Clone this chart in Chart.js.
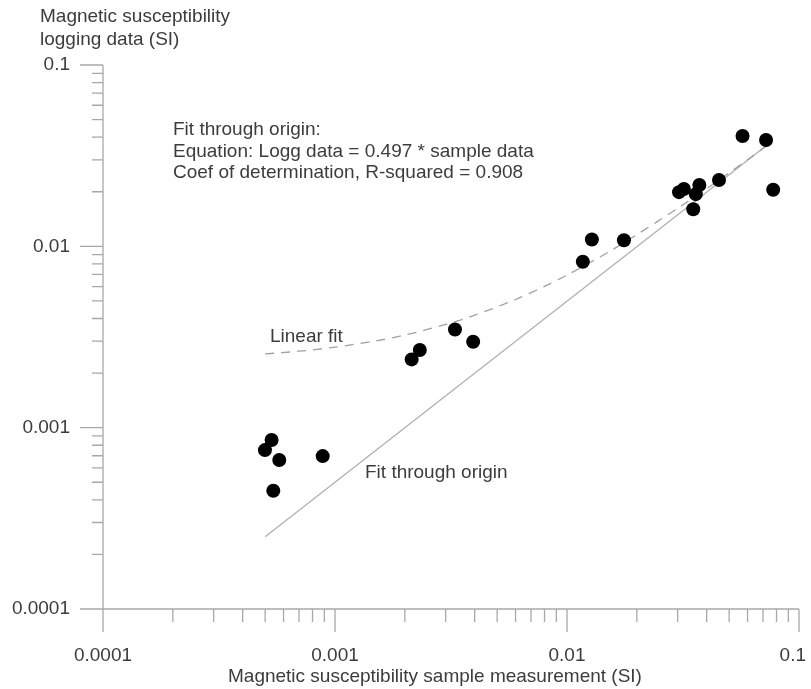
<!DOCTYPE html>
<html>
<head>
<meta charset="utf-8">
<script src="https://cdn.jsdelivr.net/npm/chart.js@4.4.0/dist/chart.umd.min.js"></script>
<style>
  html, body { margin: 0; padding: 0; background: #fff; }
  #wrap { position: relative; width: 811px; height: 689px; }
  canvas { display: block; }
</style>
</head>
<body>
<div id="wrap"><canvas id="c" width="811" height="689"></canvas></div>
<script>
// ---- Data ----
const sampleX = [0.000533, 0.000499, 0.000575, 0.000542, 0.000885,
                 0.00214, 0.00232, 0.00329, 0.00394,
                 0.0117, 0.0128, 0.0176,
                 0.0304, 0.0319, 0.0350, 0.0359, 0.0372, 0.0452,
                 0.0571, 0.0721, 0.0774];
const loggY   = [0.000855, 0.000752, 0.000663, 0.000449, 0.000697,
                 0.00238, 0.00268, 0.00348, 0.00298,
                 0.00822, 0.0109, 0.0108,
                 0.0199, 0.0207, 0.0160, 0.0194, 0.0218, 0.0232,
                 0.0406, 0.0386, 0.0205];

// Fit through origin (straight line in log-log), endpoints
const originFitX = [0.0005, 0.075];
const originFitY = [0.00025, 0.0373];

// Linear fit (dashed curve)
const linFitX = [0.0005, 0.0007, 0.001, 0.0015, 0.002, 0.003, 0.004, 0.006, 0.008,
                 0.01, 0.015, 0.02, 0.03, 0.04, 0.05, 0.06, 0.075];
const linFitY = [0.00255, 0.00264, 0.00278, 0.00301, 0.00324, 0.00371, 0.00417, 0.00509, 0.00602,
                 0.00694, 0.00925, 0.0116, 0.0162, 0.0208, 0.0254, 0.0300, 0.0370];

// Axis ticks
const majorTicks = [0.0001, 0.001, 0.01, 0.1];
const majorLabels = ['0.0001', '0.001', '0.01', '0.1'];
const minorMultipliers = [2, 3, 4, 5, 6, 7, 8, 9];

const xTitle = 'Magnetic susceptibility sample measurement (SI)';
const yTitle = ['Magnetic susceptibility', 'logging data (SI)'];
const noteLines = ['Fit through origin:',
                   'Equation: Logg data = 0.497 * sample data',
                   'Coef of determination, R-squared = 0.908'];
const linLabel = 'Linear fit';
const originLabel = 'Fit through origin';

// ---- Build ----
const FONT = '"Liberation Sans", Arial, sans-serif';
const TXT = '#3c3c3c';
const AXC = '#a8a8a8';

function toPts(xs, ys) { return xs.map((x, i) => ({ x: x, y: ys[i] })); }

function allTicks() {
  const t = [];
  for (let i = 0; i < majorTicks.length; i++) {
    t.push(majorTicks[i]);
    if (i < majorTicks.length - 1) {
      minorMultipliers.forEach(m => t.push(+(majorTicks[i] * m).toPrecision(6)));
    }
  }
  return t;
}
function isMajor(v) { return majorTicks.some(m => Math.abs(m - v) / m < 1e-6); }
function labelFor(v) {
  const i = majorTicks.findIndex(m => Math.abs(m - v) / m < 1e-6);
  return i >= 0 ? majorLabels[i] : '';
}

const axisPlugin = {
  id: 'axisPlugin',
  afterDatasetsDraw(chart) {
    const ctx = chart.ctx;
    const xs = chart.scales.x, ys = chart.scales.y;
    const x0 = xs.getPixelForValue(majorTicks[0]);
    const x1 = xs.getPixelForValue(majorTicks[majorTicks.length - 1]);
    const y0 = ys.getPixelForValue(majorTicks[0]);
    const y1 = ys.getPixelForValue(majorTicks[majorTicks.length - 1]);
    ctx.save();
    ctx.strokeStyle = AXC;
    ctx.lineWidth = 1.3;
    ctx.beginPath();
    // axis lines
    ctx.moveTo(x0, y1); ctx.lineTo(x0, y0);
    ctx.moveTo(x0, y0); ctx.lineTo(x1, y0);
    allTicks().forEach(v => {
      const len = isMajor(v) ? 23 : 11;
      const py = ys.getPixelForValue(v);
      ctx.moveTo(x0 - len, py); ctx.lineTo(x0, py);
      const lenx = isMajor(v) ? 23 : 13;
      const px = xs.getPixelForValue(v);
      ctx.moveTo(px, y0); ctx.lineTo(px, y0 + lenx);
    });
    ctx.stroke();

    // texts
    ctx.fillStyle = TXT;
    ctx.font = '19px ' + FONT;
    ctx.textBaseline = 'middle';
    // x tick labels (kept inside the canvas)
    ctx.textAlign = 'center';
    majorTicks.forEach((v, i) => {
      const w = ctx.measureText(majorLabels[i]).width;
      let px = xs.getPixelForValue(v);
      px = Math.min(px, chart.width - 5 - w / 2);
      ctx.fillText(majorLabels[i], px, y0 + 47);
    });
    ctx.textAlign = 'left';
    yTitle.forEach((s, i) => ctx.fillText(s, 40, 17 + i * 23));
    noteLines.forEach((s, i) => ctx.fillText(s, 173, 130 + i * 21.5));
    ctx.fillText(linLabel, 270, 337);
    ctx.fillText(originLabel, 365, 473);
    ctx.fillText(xTitle, 228, 677);
    ctx.restore();
  }
};

new Chart(document.getElementById('c'), {
  type: 'scatter',
  data: {
    datasets: [
      {
        label: 'Fit through origin',
        data: toPts(originFitX, originFitY),
        showLine: true,
        borderColor: '#b0b0b0',
        borderWidth: 1.3,
        pointRadius: 0,
        fill: false,
        order: 3
      },
      {
        label: 'Linear fit',
        data: toPts(linFitX, linFitY),
        showLine: true,
        borderColor: '#a0a0a0',
        borderWidth: 1.3,
        borderDash: [9, 7],
        pointRadius: 0,
        tension: 0.3,
        fill: false,
        order: 2
      },
      {
        label: 'Samples',
        data: toPts(sampleX, loggY),
        backgroundColor: '#000',
        borderColor: '#000',
        borderWidth: 0,
        pointRadius: 7,
        pointHoverRadius: 7,
        order: 1
      }
    ]
  },
  options: {
    responsive: false,
    animation: false,
    events: [],
    layout: { padding: { left: 0, top: 65, right: 12, bottom: 0 } },
    plugins: { legend: { display: false }, tooltip: { enabled: false }, title: { display: false } },
    scales: {
      x: {
        type: 'logarithmic',
        min: 0.0001, max: 0.1,
        grid: { display: false, drawTicks: false },
        border: { display: false },
        afterBuildTicks(s) { s.ticks = allTicks().map(v => ({ value: v, major: isMajor(v) })); },
        afterFit(s) { s.height = 80; s.paddingLeft = 0; s.paddingRight = 0; },
        ticks: {
          display: false,
          autoSkip: false, maxRotation: 0,
          callback: (v) => labelFor(v)
        }
      },
      y: {
        type: 'logarithmic',
        min: 0.0001, max: 0.1,
        grid: { display: false, drawTicks: false },
        border: { display: false },
        afterBuildTicks(s) { s.ticks = allTicks().map(v => ({ value: v, major: isMajor(v) })); },
        afterFit(s) { s.width = 103; s.paddingTop = 0; s.paddingBottom = 0; },
        ticks: {
          autoSkip: false,
          padding: 33,
          color: TXT,
          font: { size: 19, family: FONT },
          callback: (v) => labelFor(v)
        }
      }
    }
  },
  plugins: [axisPlugin]
});
</script>
</body>
</html>
